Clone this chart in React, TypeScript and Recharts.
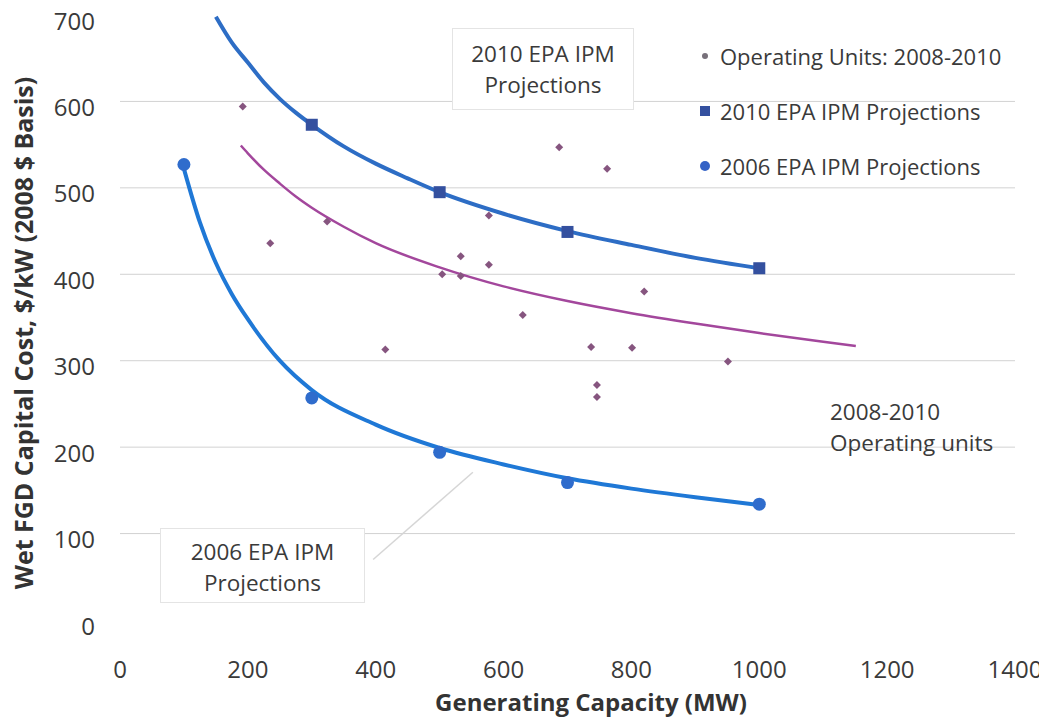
import {
  ComposedChart,
  Line,
  Scatter,
  XAxis,
  YAxis,
  CartesianGrid,
  Legend,
  ReferenceLine,
} from "recharts";

const X_TICKS = [0, 200, 400, 600, 800, 1000, 1200, 1400];
const Y_TICKS = [0, 100, 200, 300, 400, 500, 600, 700];
const GRID_VALUES = [100, 200, 300, 400, 500, 600];

// operating units 2008-2010 (MW, $/kW)
const OPERATING_UNITS = [
  { x: 192, y: 594 },
  { x: 235, y: 436 },
  { x: 324, y: 461 },
  { x: 415, y: 313 },
  { x: 504, y: 400 },
  { x: 533, y: 421 },
  { x: 533, y: 398 },
  { x: 577, y: 411 },
  { x: 577, y: 468 },
  { x: 687, y: 547 },
  { x: 762, y: 522 },
  { x: 630, y: 353 },
  { x: 820, y: 380 },
  { x: 737, y: 316 },
  { x: 801, y: 315 },
  { x: 951, y: 299 },
  { x: 746, y: 272 },
  { x: 746, y: 258 },
];

const EPA_2010_POINTS = [
  { x: 300, y: 573 },
  { x: 500, y: 495 },
  { x: 700, y: 449 },
  { x: 1000, y: 407 },
];

const EPA_2006_POINTS = [
  { x: 100, y: 527 },
  { x: 300, y: 257 },
  { x: 500, y: 194 },
  { x: 700, y: 159 },
  { x: 1000, y: 134 },
];

// trend lines
const EPA_2010_TREND = [
  { x: 150, y: 698 },
  { x: 175, y: 668 },
  { x: 200, y: 645 },
  { x: 225, y: 622 },
  { x: 250, y: 603 },
  { x: 275, y: 587 },
  { x: 300, y: 573 },
  { x: 350, y: 548 },
  { x: 400, y: 528 },
  { x: 450, y: 511 },
  { x: 500, y: 495 },
  { x: 600, y: 470 },
  { x: 700, y: 450 },
  { x: 800, y: 434 },
  { x: 900, y: 419 },
  { x: 1000, y: 407 },
];

const EPA_2006_TREND = [
  { x: 100, y: 522 },
  { x: 125, y: 460 },
  { x: 150, y: 413 },
  { x: 175, y: 377 },
  { x: 200, y: 348 },
  { x: 250, y: 300 },
  { x: 300, y: 266 },
  { x: 400, y: 226 },
  { x: 500, y: 199 },
  { x: 600, y: 180 },
  { x: 700, y: 164 },
  { x: 800, y: 152 },
  { x: 900, y: 142 },
  { x: 1000, y: 133 },
];

const OPERATING_TREND = [
  { x: 189, y: 549 },
  { x: 200, y: 540 },
  { x: 225, y: 521 },
  { x: 250, y: 505 },
  { x: 275, y: 490 },
  { x: 300, y: 477 },
  { x: 350, y: 455 },
  { x: 400, y: 436 },
  { x: 500, y: 408 },
  { x: 600, y: 386 },
  { x: 700, y: 369 },
  { x: 800, y: 355 },
  { x: 900, y: 343 },
  { x: 1000, y: 332 },
  { x: 1100, y: 322 },
  { x: 1151, y: 317 },
];

const LEGEND_ITEMS = [
  { name: "Operating Units: 2008-2010", marker: "dot", color: "#77707a" },
  { name: "2010 EPA IPM Projections", marker: "square", color: "#34509f" },
  { name: "2006 EPA IPM Projections", marker: "circle", color: "#3563c6" },
];

const FONT = '"Open Sans", "Noto Sans", sans-serif';
const TEXT_COLOR = "#3a3a3a";

const DiamondDot = (props: any) => {
  const { cx, cy } = props;
  const r = 4;
  return (
    <path
      d={`M${cx},${cy - r}L${cx + r},${cy}L${cx},${cy + r}L${cx - r},${cy}Z`}
      fill="#86557f"
    />
  );
};

const SquareDot = (props: any) => {
  const { cx, cy } = props;
  return <rect x={cx - 6} y={cy - 6} width={12} height={12} fill="#34509f" />;
};

const CircleDot = (props: any) => {
  const { cx, cy } = props;
  return <circle cx={cx} cy={cy} r={6.5} fill="#2f6ccc" />;
};

// y labels sit a few pixels under their gridline in the original
const YTick = (props: any) => {
  const { x, y, payload } = props;
  return (
    <text
      x={x}
      y={y + 5}
      textAnchor="end"
      dominantBaseline="central"
      fill={TEXT_COLOR}
      fontSize={24}
      fontFamily={FONT}
    >
      {payload.value}
    </text>
  );
};

function LegendMarker({ marker, color }: { marker: string; color: string }) {
  return (
    <svg width={14} height={14} style={{ marginRight: 8 }}>
      {marker === "dot" && <circle cx={7} cy={7} r={3} fill={color} />}
      {marker === "square" && <rect x={2} y={2} width={10} height={10} fill={color} />}
      {marker === "circle" && <circle cx={7} cy={7} r={5} fill={color} />}
    </svg>
  );
}

const renderLegend = () => (
  <div style={{ fontFamily: FONT, fontSize: 22, color: TEXT_COLOR }}>
    {LEGEND_ITEMS.map((item) => (
      <div
        key={item.name}
        style={{ display: "flex", alignItems: "center", height: 55, whiteSpace: "nowrap" }}
      >
        <LegendMarker marker={item.marker} color={item.color} />
        {item.name}
      </div>
    ))}
  </div>
);

const boxStyle = {
  position: "absolute" as const,
  border: "1px solid #e4e4e4",
  background: "#fff",
  textAlign: "center" as const,
  fontSize: 22.5,
  lineHeight: "31px",
  color: TEXT_COLOR,
  boxSizing: "border-box" as const,
  whiteSpace: "nowrap" as const,
};

export default function App() {
  return (
    <div
      style={{
        position: "relative",
        width: 1047,
        height: 725,
        margin: -8,
        background: "#fff",
        fontFamily: FONT,
      }}
    >
      <ComposedChart
        width={1047}
        height={725}
        margin={{ top: 15, right: 32, bottom: 0, left: 0 }}
      >
        <CartesianGrid
          vertical={false}
          horizontalValues={GRID_VALUES}
          stroke="#d2d2d2"
        />
        <XAxis
          type="number"
          dataKey="x"
          domain={[0, 1400]}
          ticks={X_TICKS}
          height={105}
          axisLine={false}
          tickLine={false}
          tickMargin={35}
          tick={{ fill: TEXT_COLOR, fontSize: 24, fontFamily: FONT }}
          label={() => (
            <text
              x={591}
              y={711}
              textAnchor="middle"
              fill="#333"
              fontSize={24}
              fontWeight="bold"
              fontFamily={FONT}
            >
              Generating Capacity (MW)
            </text>
          )}
        />
        <YAxis
          type="number"
          dataKey="y"
          domain={[0, 700]}
          ticks={Y_TICKS}
          width={120}
          axisLine={false}
          tickLine={false}
          tickMargin={19}
          tick={YTick}
          label={() => (
            <text
              x={23}
              y={333}
              transform="rotate(-90 23 333)"
              textAnchor="middle"
              dominantBaseline="central"
              fill="#333"
              fontSize={25}
              fontWeight="bold"
              fontFamily={FONT}
            >
              Wet FGD Capital Cost, $/kW (2008 $ Basis)
            </text>
          )}
        />
        <ReferenceLine
          segment={[
            { x: 396, y: 70 },
            { x: 552, y: 171 },
          ]}
          stroke="#d6d6d6"
          strokeWidth={1.5}
        />
        <Line
          data={OPERATING_TREND}
          dataKey="y"
          type="monotone"
          stroke="#a3479c"
          strokeWidth={2.5}
          dot={false}
          isAnimationActive={false}
        />
        <Line
          data={EPA_2010_TREND}
          dataKey="y"
          type="monotone"
          stroke="#2d6dc5"
          strokeWidth={4}
          dot={false}
          isAnimationActive={false}
        />
        <Line
          data={EPA_2006_TREND}
          dataKey="y"
          type="monotone"
          stroke="#1f78d6"
          strokeWidth={4}
          dot={false}
          isAnimationActive={false}
        />
        <Scatter
          name="Operating Units: 2008-2010"
          data={OPERATING_UNITS}
          dataKey="y"
          shape={DiamondDot}
          isAnimationActive={false}
        />
        <Scatter
          name="2010 EPA IPM Projections"
          data={EPA_2010_POINTS}
          dataKey="y"
          shape={SquareDot}
          isAnimationActive={false}
        />
        <Scatter
          name="2006 EPA IPM Projections"
          data={EPA_2006_POINTS}
          dataKey="y"
          shape={CircleDot}
          isAnimationActive={false}
        />
        <Legend
          layout="vertical"
          align="center"
          verticalAlign="middle"
          content={renderLegend}
          wrapperStyle={{ left: 698, top: 28, width: 345, height: 170 }}
        />
      </ComposedChart>

      <div style={{ ...boxStyle, left: 452, top: 28, width: 182, height: 82, paddingTop: 9 }}>
        2010 EPA IPM
        <br />
        Projections
      </div>
      <div style={{ ...boxStyle, left: 160, top: 528, width: 205, height: 75, paddingTop: 7 }}>
        2006 EPA IPM
        <br />
        Projections
      </div>
      <div
        style={{
          position: "absolute",
          left: 830,
          top: 396,
          fontSize: 22.5,
          lineHeight: "31px",
          color: TEXT_COLOR,
          whiteSpace: "nowrap",
        }}
      >
        2008-2010
        <br />
        Operating units
      </div>
    </div>
  );
}
